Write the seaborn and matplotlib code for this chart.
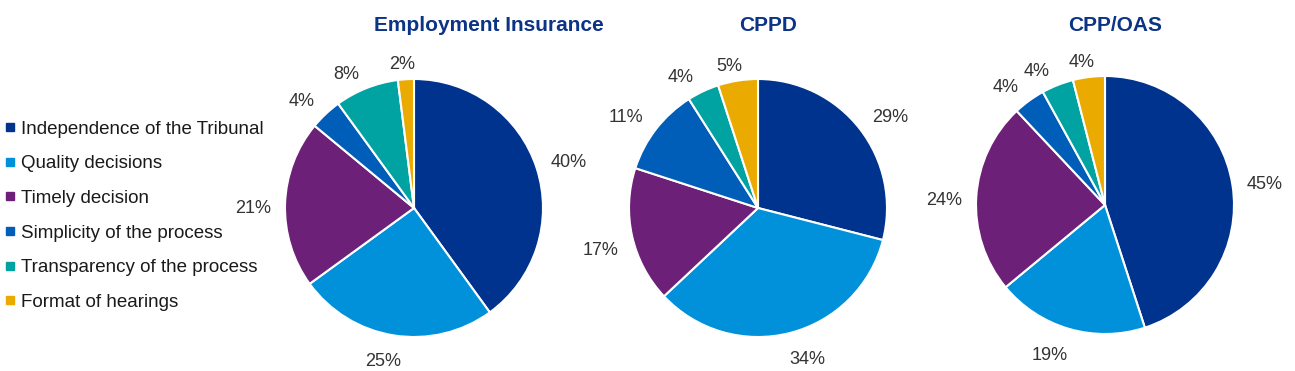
import numpy as np
import matplotlib
matplotlib.use("Agg")
import matplotlib.pyplot as plt
from matplotlib.lines import Line2D
import seaborn as sns

categories = ["Independence of the Tribunal", "Quality decisions", "Timely decision",
              "Simplicity of the process", "Transparency of the process", "Format of hearings"]
titles = ["Employment Insurance", "CPPD", "CPP/OAS"]
ei_values = [40, 25, 21, 4, 8, 2]
cppd_values = [29, 34, 17, 11, 4, 5]
cppoas_values = [45, 19, 24, 4, 4, 4]

colors = sns.color_palette(["#00338D", "#0091DA", "#6D2077", "#005EB8", "#00A3A1", "#EAAA00"])

sns.set_theme(style="white")
plt.rcParams['font.family'] = ['Liberation Sans', 'DejaVu Sans']

W, H = 1295, 371
fig = plt.figure(figsize=(W / 100, H / 100), dpi=100)
renderer = fig.canvas.get_renderer()

# pie centres (px from left/top), radius in px
centres = [(414, 208), (758, 208), (1105, 205)]
title_x = [489, 768, 1115]
radius_px = 129
box = 300
lim = box / (2 * radius_px)


def side(c):
    return np.clip(2.5 * c, -1, 1)


for vals, (cx, cy), title, tx in zip([ei_values, cppd_values, cppoas_values], centres, titles, title_x):
    ax = fig.add_axes([(cx - box / 2) / W, 1 - (cy + box / 2) / H, box / W, box / H])
    wedges, texts = ax.pie(vals, colors=colors, startangle=90, counterclock=False,
                           labels=[f"{v}%" for v in vals], labeldistance=1.2,
                           wedgeprops=dict(edgecolor="white", linewidth=1.5),
                           textprops=dict(fontsize=13, color="#333333"))
    # excel-style "outside end": label box sits just outside the rim
    for w, t in zip(wedges, texts):
        ang = np.deg2rad((w.theta1 + w.theta2) / 2)
        bb = t.get_window_extent(renderer)
        hw = bb.width / 2 + 6
        hh = bb.height / 2 + 4
        rg = radius_px + 8
        px = rg * np.cos(ang) + hw * side(np.cos(ang))
        py = rg * np.sin(ang) + hh * side(np.sin(ang)) - 6
        t.set_position((px / radius_px, py / radius_px))
        t.set_horizontalalignment("center")
        t.set_verticalalignment("center")
    ax.set_xlim(-lim, lim)
    ax.set_ylim(-lim, lim)
    ax.set_aspect("equal")
    ax.axis("off")
    fig.text(tx / W, 1 - 31 / H, title, ha="center", va="baseline",
             fontsize=15, fontweight="bold", color="#0B3386")

handles = [Line2D([], [], marker="s", linestyle="none", markersize=5.3,
                  markerfacecolor=c, markeredgecolor=c) for c in colors]
fig.legend(handles, categories, loc="upper left", bbox_to_anchor=(2 / W, 1 - 117 / H),
           frameon=False, fontsize=13.5, handlelength=0.5, handletextpad=0.3,
           labelspacing=0.93, borderaxespad=0, borderpad=0.2, labelcolor="#1a1a1a")

fig.savefig("out.png", dpi=100, facecolor="white")
